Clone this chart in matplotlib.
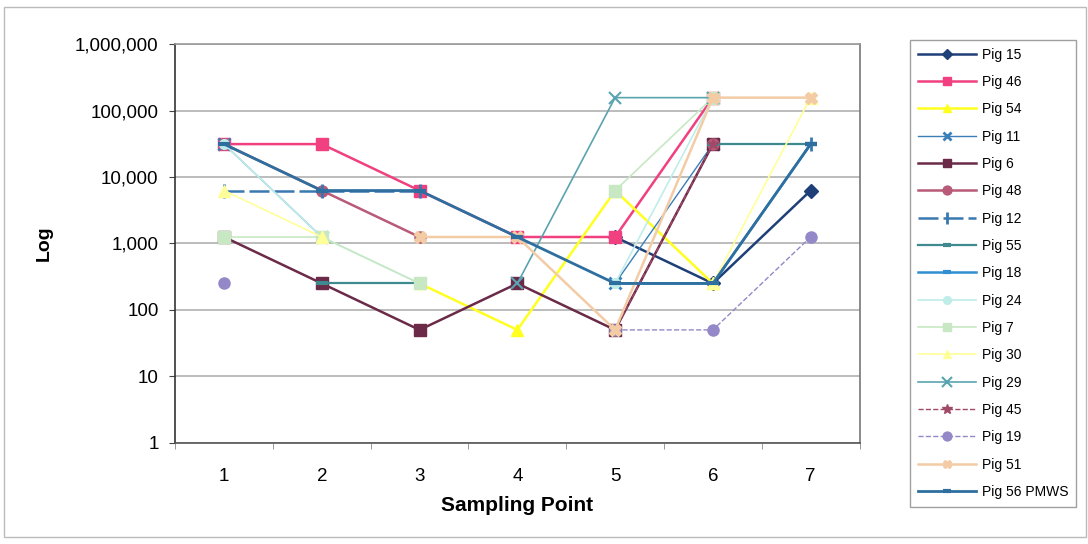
import numpy as np
import matplotlib
matplotlib.use("Agg")
import matplotlib.pyplot as plt
from matplotlib.ticker import FixedLocator, NullFormatter

plt.rcParams['font.family'] = ['Liberation Sans', 'DejaVu Sans']

points = [1, 2, 3, 4, 5, 6, 7]
N = None

pig_15 = [N, N, N, N, 1250, 250, 6250]
pig_46 = [31250, 31250, 6250, 1250, 1250, 156250, N]
pig_54 = [N, N, 250, 50, 6250, 250, N]
pig_11 = [31250, 1250, N, N, 250, 31250, N]
pig_6 = [1250, 250, 50, 250, 50, 31250, N]
pig_48 = [31250, 6250, 1250, N, N, 31250, N]
pig_12 = [6250, 6250, 6250, N, N, N, 31250]
pig_55 = [N, 250, 250, N, N, 31250, 31250]
pig_18 = [N, N, N, N, 250, 250, 31250]
pig_24 = [31250, 1250, 250, N, 250, 156250, N]
pig_7 = [1250, 1250, 250, N, 6250, 156250, N]
pig_30 = [6250, 1250, N, N, N, 250, 156250]
pig_29 = [N, N, N, 250, 156250, 156250, N]
pig_45 = [N, N, N, N, 50, 31250, N]
pig_19 = [250, N, N, N, 50, 50, 1250]
pig_51 = [N, N, 1250, 1250, 50, 156250, 156250]
pig_56 = [31250, 6250, 6250, 1250, 250, 250, 31250]

series = [
    ("Pig 15", pig_15, dict(color='#1f3f78', marker='D', ms=7, lw=1.8)),
    ("Pig 46", pig_46, dict(color='#f0407f', marker='s', ms=8, lw=1.8)),
    ("Pig 54", pig_54, dict(color='#ffff20', marker='^', ms=8, lw=1.8)),
    ("Pig 11", pig_11, dict(color='#3a7fb8', marker='x', ms=8, lw=1.0, mew=2)),
    ("Pig 6", pig_6, dict(color='#6a2a48', marker='s', ms=8, lw=1.8)),
    ("Pig 48", pig_48, dict(color='#b85a78', marker='o', ms=8, lw=1.8)),
    ("Pig 12", pig_12, dict(color='#3a78b0', marker='|', ms=10, lw=1.8, mew=2,
                            ls=(0, (8, 2)))),
    ("Pig 55", pig_55, dict(color='#3e8a8e', marker='_', ms=8, lw=1.6, mew=3)),
    ("Pig 18", pig_18, dict(color='#2f8fd0', marker='_', ms=8, lw=1.8, mew=3)),
    ("Pig 24", pig_24, dict(color='#bfeeea', marker='o', ms=7, lw=1.2)),
    ("Pig 7", pig_7, dict(color='#c8e8c4', marker='s', ms=8, lw=1.2)),
    ("Pig 30", pig_30, dict(color='#ffff9a', marker='^', ms=8, lw=1.2)),
    ("Pig 29", pig_29, dict(color='#5aa4b0', marker='x', ms=9, lw=1.2, mew=1.5)),
    ("Pig 45", pig_45, dict(color='#a04a68', marker='*', ms=9, lw=1.0, ls='--')),
    ("Pig 19", pig_19, dict(color='#9488c8', marker='o', ms=8, lw=1.0, ls='--')),
    ("Pig 51", pig_51, dict(color='#f3cca6', marker='X', ms=8, lw=1.8)),
    ("Pig 56 PMWS", pig_56, dict(color='#2e6fa0', marker='_', ms=8, lw=2.0, mew=3)),
]

fig = plt.figure(figsize=(10.88, 5.44), dpi=100)
ax = fig.add_axes([0.161, 0.186, 0.629, 0.733])

x = np.array(points, dtype=float)
handles = []
for name, vals, style in series:
    y = np.array([np.nan if v is None else v for v in vals], dtype=float)
    h, = ax.plot(x, y, label=name, **style)
    handles.append(h)

ax.set_yscale('log')
ax.set_ylim(1, 1e6)
ax.set_xlim(0.5, 7.5)
yt = [1, 10, 100, 1000, 10000, 100000, 1000000]
ax.yaxis.set_major_locator(FixedLocator(yt))
ax.yaxis.set_minor_formatter(NullFormatter())
ax.yaxis.set_minor_locator(FixedLocator([]))
ax.set_yticklabels(['{:,}'.format(v) for v in yt], fontsize=13.5)
ax.set_xticks(points)
ax.set_xticklabels([str(p) for p in points], fontsize=13.5)
ax.xaxis.set_minor_locator(FixedLocator(np.arange(0.5, 8.0, 1.0)))
ax.tick_params(axis='x', which='major', length=0, pad=18)
ax.tick_params(axis='x', which='minor', length=4, color='#888888')
ax.tick_params(axis='y', which='major', length=4, color='#444444', pad=8)

ax.grid(True, axis='y', color='#b0b0b0', lw=1.2)
ax.set_axisbelow(True)
ax.spines['left'].set_color('#333333')
ax.spines['bottom'].set_color('#555555')
ax.spines['top'].set_color('#999999')
ax.spines['right'].set_color('#777777')
for s in ax.spines.values():
    s.set_linewidth(1.2)

ax.set_ylabel('Log', fontsize=14, fontweight='bold', labelpad=16)
ax.set_xlabel('Sampling Point', fontsize=15, fontweight='bold', labelpad=8)

leg = fig.legend(handles=handles, loc='upper left',
                 bbox_to_anchor=(910 / 1088, 1 - 40 / 544),
                 fontsize=10, labelspacing=0.96, handlelength=4.2,
                 handletextpad=0.4, borderpad=0.55, markerscale=0.8,
                 frameon=True, fancybox=False, edgecolor='#888888',
                 borderaxespad=0)
leg.get_frame().set_linewidth(1.0)

# outer chart border
fig.patches.append(plt.Rectangle((0.004, 0.012), 0.994, 0.976, transform=fig.transFigure,
                                 fill=False, edgecolor='#bbbbbb', lw=1.0))

fig.savefig('out.png', dpi=100)
